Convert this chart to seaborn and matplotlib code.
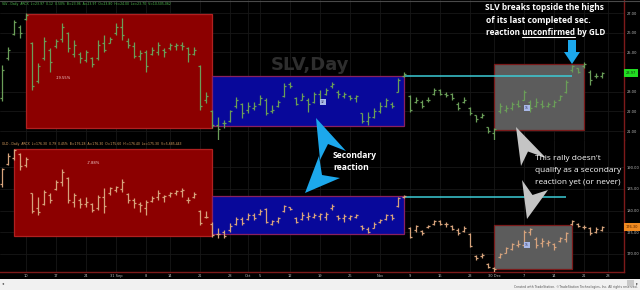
import matplotlib
matplotlib.use("Agg")
import matplotlib.pyplot as plt
import seaborn as sns
import numpy as np
import pandas as pd
from matplotlib.patches import Rectangle, Polygon
from matplotlib import font_manager as fm

# ---------------- data ----------------
trade_days = pd.bdate_range("2020-08-04", "2020-12-31", freq="C",
                            holidays=["2020-09-07", "2020-11-26", "2020-12-25"])

slv_high = [24.36, 25.27, 26.64, 26.39, 27.00, 25.53, 24.46, 25.78, 25.22, 25.68,
            26.49, 26.04, 25.63, 25.02, 25.12, 24.77, 25.63, 25.88, 25.78, 26.49,
            26.75, 25.73, 25.53, 25.12, 25.12, 25.27, 25.53, 25.22, 25.48, 25.48,
            25.53, 25.27, 25.27, 24.36, 22.99, 22.08, 21.72, 21.57, 22.08, 22.74,
            22.43, 22.48, 22.48, 22.84, 22.69, 22.33, 22.58, 23.45, 23.50, 22.74,
            22.94, 22.69, 22.99, 23.09, 23.19, 23.50, 23.09, 22.99, 22.84, 22.84,
            21.92, 21.98, 22.18, 22.48, 22.69, 22.48, 23.70, 24.00, 22.84, 22.74,
            22.58, 22.74, 23.19, 23.14, 22.99, 22.94, 22.48, 22.74, 22.23, 21.82,
            21.92, 21.21, 21.16, 22.43, 22.33, 22.48, 22.58, 23.09, 22.58, 22.69,
            22.58, 22.48, 22.58, 22.84, 23.60, 24.36, 24.21, 24.51, 24.11, 23.95,
            24.00]
slv_low = [22.55, 24.61, 25.88, 25.73, 26.64, 23.09, 23.45, 24.61, 24.00, 25.22,
           25.53, 25.02, 24.77, 24.46, 24.51, 24.26, 24.61, 25.02, 25.48, 25.88,
           25.63, 25.22, 24.72, 24.61, 24.00, 24.87, 24.87, 24.77, 25.12, 25.12,
           25.12, 24.51, 24.87, 22.08, 22.43, 21.16, 20.55, 21.16, 21.47, 22.18,
           21.67, 21.92, 22.08, 22.33, 21.82, 21.92, 22.23, 22.74, 23.19, 22.33,
           22.58, 21.98, 22.43, 22.43, 22.84, 23.19, 22.69, 22.69, 22.58, 22.48,
           21.42, 21.31, 21.67, 21.92, 22.23, 22.18, 22.99, 23.75, 21.98, 22.43,
           22.18, 22.48, 22.84, 22.84, 22.74, 22.58, 22.08, 22.43, 21.82, 21.47,
           21.67, 20.91, 20.55, 21.92, 21.98, 22.08, 22.23, 22.58, 21.98, 22.23,
           22.18, 22.23, 22.23, 22.58, 22.94, 24.00, 23.95, 24.21, 23.35, 23.70,
           23.70]
slv_open = [22.70, 24.70, 25.95, 26.30, 26.70, 25.50, 23.55, 24.70, 25.10, 25.30,
            25.70, 26.00, 24.90, 24.90, 24.60, 24.70, 24.70, 25.50, 25.50, 26.00,
            26.30, 25.60, 25.30, 24.80, 25.00, 24.90, 25.00, 25.10, 25.20, 25.30,
            25.40, 25.20, 24.90, 24.30, 22.60, 22.00, 21.30, 21.40, 21.50, 22.30,
            22.40, 22.10, 22.20, 22.40, 22.60, 22.00, 22.30, 22.80, 23.40, 22.70,
            22.60, 22.60, 22.50, 22.90, 22.90, 23.30, 23.00, 22.80, 22.80, 22.70,
            21.90, 21.50, 21.70, 22.00, 22.30, 22.40, 23.00, 23.80, 22.80, 22.50,
            22.50, 22.60, 22.90, 23.10, 22.90, 22.90, 22.40, 22.50, 22.20, 21.80,
            21.70, 21.20, 20.90, 22.00, 22.10, 22.20, 22.40, 22.60, 22.50, 22.30,
            22.40, 22.30, 22.30, 22.60, 23.00, 24.10, 24.20, 24.30, 24.00, 23.80,
            23.80]
slv_close = [24.10, 25.12, 26.55, 26.00, 26.90, 23.30, 24.30, 25.60, 24.50, 25.60,
             26.30, 25.20, 25.40, 24.70, 25.00, 24.40, 25.40, 25.10, 25.70, 26.30,
             25.90, 25.40, 24.80, 24.95, 24.30, 25.10, 25.40, 25.00, 25.40, 25.40,
             25.30, 24.90, 25.10, 22.30, 22.80, 21.30, 21.10, 21.40, 22.00, 22.60,
             21.90, 22.30, 22.30, 22.70, 21.90, 22.10, 22.50, 23.30, 23.30, 22.40,
             22.80, 22.40, 22.90, 22.60, 23.10, 23.40, 22.90, 22.90, 22.70, 22.80,
             21.50, 21.70, 22.00, 22.30, 22.60, 22.30, 23.60, 23.90, 22.10, 22.60,
             22.30, 22.60, 23.10, 22.90, 22.85, 22.70, 22.20, 22.60, 21.90, 21.60,
             21.80, 21.00, 21.10, 22.30, 22.20, 22.40, 22.30, 23.00, 22.20, 22.50,
             22.30, 22.40, 22.50, 22.80, 23.50, 24.30, 24.00, 24.40, 23.60, 23.80,
             23.97]

gld_high = [189.77, 193.20, 194.10, 193.20, 192.30, 184.00, 183.10, 184.70, 184.00, 187.00,
            189.50, 187.70, 184.00, 182.90, 183.10, 181.70, 183.60, 185.20, 185.40, 185.60,
            187.20, 184.00, 182.90, 182.00, 182.40, 183.30, 184.70, 183.60, 184.30, 184.70,
            185.20, 183.10, 184.30, 180.10, 179.90, 177.40, 176.00, 175.50, 177.10, 178.50,
            178.50, 179.40, 179.40, 180.30, 180.60, 177.80, 178.50, 181.30, 180.80, 178.50,
            179.70, 179.70, 179.40, 179.40, 179.70, 181.50, 179.00, 179.20, 179.00, 179.20,
            176.70, 176.20, 177.40, 178.00, 179.20, 179.20, 183.10, 183.60, 176.20, 176.70,
            175.50, 176.70, 177.80, 177.80, 177.40, 176.70, 176.00, 176.40, 174.80, 169.80,
            170.20, 167.90, 167.00, 170.20, 171.60, 172.50, 173.20, 175.50, 176.00, 173.90,
            173.70, 173.20, 172.50, 173.90, 175.10, 177.80, 177.10, 176.70, 176.20, 176.20,
            176.40]
gld_low = [185.40, 190.46, 191.50, 189.31, 190.00, 179.40, 179.00, 181.30, 181.70, 184.70,
           185.60, 181.70, 180.80, 180.60, 180.80, 179.70, 180.10, 179.40, 183.60, 184.30,
           184.30, 181.70, 180.60, 179.70, 179.00, 182.00, 182.40, 182.00, 183.10, 183.60,
           183.10, 181.70, 182.90, 176.70, 178.30, 173.90, 173.70, 173.70, 175.10, 176.70,
           176.70, 177.80, 177.80, 179.00, 177.10, 176.70, 177.10, 179.70, 180.10, 177.10,
           177.80, 177.80, 178.30, 177.80, 177.80, 180.10, 177.80, 177.40, 177.80, 178.30,
           175.50, 174.80, 176.00, 177.10, 177.80, 177.80, 180.80, 182.90, 173.70, 175.10,
           174.40, 176.00, 176.70, 176.70, 176.20, 175.50, 174.40, 175.10, 171.60, 168.60,
           169.10, 166.80, 165.90, 169.10, 170.20, 170.90, 171.60, 171.60, 174.40, 171.40,
           171.60, 171.80, 170.90, 172.80, 172.80, 176.70, 176.20, 175.70, 174.40, 174.80,
           175.30]
gld_open = [186.00, 190.60, 192.00, 193.00, 190.50, 184.00, 180.50, 181.50, 183.50, 185.00,
            186.50, 187.50, 182.00, 182.50, 181.50, 181.50, 180.50, 183.00, 184.00, 184.80,
            185.00, 183.90, 182.30, 181.50, 180.50, 182.20, 183.00, 183.00, 183.50, 184.00,
            184.50, 182.50, 183.00, 180.00, 178.50, 177.00, 174.50, 175.00, 175.50, 177.00,
            178.00, 178.00, 178.90, 179.20, 180.30, 177.00, 177.50, 179.90, 180.70, 178.30,
            178.00, 178.50, 178.50, 178.80, 178.50, 180.50, 178.80, 178.20, 178.30, 178.50,
            176.50, 175.80, 176.00, 177.30, 178.00, 179.00, 181.00, 183.00, 176.00, 175.50,
            175.30, 176.10, 176.90, 177.60, 177.00, 176.50, 175.50, 175.20, 174.50, 169.50,
            169.50, 167.80, 166.80, 169.20, 170.30, 171.20, 172.00, 172.00, 175.00, 173.50,
            172.50, 172.50, 172.20, 173.00, 173.50, 177.00, 176.80, 176.30, 176.00, 175.00,
            175.60]
gld_close = [189.50, 192.50, 194.00, 190.20, 191.80, 180.00, 179.60, 184.20, 182.50, 186.60,
             188.80, 182.30, 183.60, 181.50, 182.00, 180.20, 183.00, 181.00, 185.10, 185.30,
             186.50, 182.30, 181.80, 181.20, 182.00, 182.80, 184.00, 183.30, 184.00, 184.40,
             184.70, 182.40, 183.70, 177.20, 178.50, 174.30, 174.60, 174.10, 176.50, 178.00,
             177.20, 178.90, 178.30, 180.00, 177.40, 177.50, 178.20, 181.00, 180.30, 177.40,
             178.90, 178.70, 179.00, 179.10, 179.20, 181.00, 178.20, 178.70, 178.70, 179.00,
             175.90, 175.00, 176.80, 177.80, 179.00, 178.20, 182.80, 183.40, 174.00, 176.40,
             174.80, 176.50, 177.50, 177.00, 176.80, 175.80, 174.90, 175.90, 171.90, 169.00,
             169.80, 167.00, 166.50, 170.00, 171.30, 172.30, 172.20, 175.00, 175.80, 172.00,
             173.00, 172.80, 171.50, 173.70, 174.80, 177.50, 176.50, 176.20, 174.80, 175.80,
             176.30]

tick_dates = ["2020-08-10", "2020-08-17", "2020-08-24", "2020-08-31", "2020-09-08",
              "2020-09-14", "2020-09-21", "2020-09-28", "2020-10-01", "2020-10-05",
              "2020-10-12", "2020-10-19", "2020-10-26", "2020-11-02", "2020-11-09",
              "2020-11-16", "2020-11-23", "2020-11-30", "2020-12-07", "2020-12-14",
              "2020-12-21", "2020-12-28"]
tick_labels = ["10", "17", "24", "31 Sep", "8", "14", "21", "28", "Oct", "5", "12",
               "19", "26", "Nov", "9", "16", "23", "30 Dec", "7", "14", "21", "28"]

slv_price_ticks = [21, 22, 23, 25, 26, 27]
gld_price_ticks = [170, 175, 180, 185, 190]

# boxes: (start date, end date, top price, bottom price)
slv_red_box = ("2020-08-10", "2020-09-23", 26.95, 21.16)
slv_blue_box = ("2020-09-23", "2020-11-06", 23.80, 21.26)
slv_gray_box = ("2020-11-30", "2020-12-21", 24.41, 21.06)
slv_cyan = ("2020-11-06", "2020-12-17", 23.80)
gld_red_box = ("2020-08-06", "2020-09-23", 194.14, 174.14)
gld_blue_box = ("2020-09-23", "2020-11-06", 183.33, 174.60)
gld_gray_box = ("2020-11-30", "2020-12-17", 176.67, 166.55)
gld_cyan = ("2020-11-06", "2020-12-16", 183.10)

# ---------------- style ----------------
sns.set_theme(style="dark")
plt.rcParams['font.family'] = ['DejaVu Sans']


def has_font(name):
    try:
        fm.findfont(fm.FontProperties(family=name), fallback_to_default=False)
        return True
    except Exception:
        return False


ann_font = 'Liberation Sans Narrow' if has_font('Liberation Sans Narrow') else 'Open Sans'

day_index = {d.strftime("%Y-%m-%d"): i for i, d in enumerate(trade_days)}

W, H = 640, 290
fig = plt.figure(figsize=(W / 100, H / 100), dpi=100, facecolor='black')

ax1 = fig.add_axes([0, 1 - 140 / H, 624 / W, 140 / H])
ax2 = fig.add_axes([0, 1 - 272 / H, 624 / W, 132 / H])
ov = fig.add_axes([0, 0, 1, 1], zorder=10)
ov.set_xlim(0, W)
ov.set_ylim(H, 0)
ov.axis('off')
ov.patch.set_alpha(0)

XMIN, XMAX = -1 / 3, 103 + 2 / 3
RED_EDGE = '#7e1a1a'

for ax, lims, ticks in [(ax1, (20.553, 27.66), slv_price_ticks),
                        (ax2, (165.86, 196.21), gld_price_ticks)]:
    ax.set_facecolor('black')
    ax.set_xlim(XMIN, XMAX)
    ax.set_ylim(*lims)
    for s in ax.spines.values():
        s.set_visible(False)
    ax.spines['right'].set_visible(True)
    ax.spines['right'].set_color(RED_EDGE)
    ax.spines['right'].set_linewidth(1.0)
    ax.yaxis.tick_right()
    ax.set_yticks(ticks)
    ax.set_yticklabels([f"{t:.2f}" for t in ticks])
    ax.tick_params(axis='y', length=0, pad=2, labelsize=2.6, labelcolor='#bdbdbd')
    ax.set_xticks([day_index[d] for d in tick_dates])
    ax.grid(True, color='#171717', lw=0.6)
    ax.set_axisbelow(True)

ax1.tick_params(axis='x', length=0, labelbottom=False)
ax2.set_xticklabels(tick_labels)
ax2.tick_params(axis='x', length=0, pad=1.5, labelsize=2.6, labelcolor='#bdbdbd')
ax2.spines['bottom'].set_visible(True)
ax2.spines['bottom'].set_color(RED_EDGE)
ax2.spines['bottom'].set_linewidth(1.0)


def box(ax, spec, fc, ec):
    d0, d1, top, bot = spec
    x0, x1 = day_index[d0], day_index[d1]
    ax.add_patch(Rectangle((x0, bot), x1 - x0, top - bot, facecolor=fc,
                           edgecolor=ec, lw=0.9, zorder=2))


def hline(ax, spec):
    d0, d1, y = spec
    ax.hlines(y, day_index[d0], day_index[d1], color='#3ccbd6', lw=1.1, zorder=3)


# watermarks
ax1.text(310, 65, "SLV,Day", transform=ov.transData, ha='center', va='center',
         fontsize=13, fontweight='bold', color='#2e2e2e', zorder=1)
ax2.text(310, 205, "GLD,Day", transform=ov.transData, ha='center', va='center',
         fontsize=13, fontweight='bold', color='#2a2a2a', zorder=1)

box(ax1, slv_red_box, '#8c0000', '#b02020')
box(ax1, slv_blue_box, '#08089a', '#8a2060')
box(ax1, slv_gray_box, '#5c5c5c', '#7a1a1a')
hline(ax1, slv_cyan)
box(ax2, gld_red_box, '#8c0000', '#b02020')
box(ax2, gld_blue_box, '#08089a', '#8a2060')
box(ax2, gld_gray_box, '#5c5c5c', '#7a1a1a')
hline(ax2, gld_cyan)


def ohlc(ax, o, h, l, c, color):
    x = np.arange(len(h))
    ax.vlines(x, l, h, color=color, lw=0.9, zorder=4)
    ax.hlines(o, x - 0.4, x, color=color, lw=0.9, zorder=4)
    ax.hlines(c, x, x + 0.4, color=color, lw=0.9, zorder=4)


ohlc(ax1, slv_open, slv_high, slv_low, slv_close, '#6a9e58')
ohlc(ax2, gld_open, gld_high, gld_low, gld_close, '#d6a37c')

# last price markers
ax1.text(1.003, slv_close[-1], f"{slv_close[-1]:.2f}", transform=ax1.get_yaxis_transform(),
         ha='left', va='center', fontsize=2.6, color='#103010',
         bbox=dict(boxstyle='square,pad=0.55', fc='#22dd22', ec='none'))
ax2.text(1.003, gld_close[-1], f"{gld_close[-1]:.2f}", transform=ax2.get_yaxis_transform(),
         ha='left', va='center', fontsize=2.6, color='#502000',
         bbox=dict(boxstyle='square,pad=0.55', fc='#f08a20', ec='none'))

renderer = fig.canvas.get_renderer()


def fit_text(x, y, s, width, size0=7.0, **kw):
    t = ov.text(x, y, s, fontsize=size0, **kw)
    w = t.get_window_extent(renderer).width
    t.set_fontsize(size0 * width / w)
    return t


# headers
fit_text(2, 4.5, "SLV - Daily  ARCX  L=23.97  0.12  0.50%  B=23.96  A=23.97  O=23.80  Hi=24.00  Lo=23.70  V=10,505,062",
         170, color='#4fbf4f', ha='left', va='center')
fit_text(2, 144.5, "GLD - Daily  ARCX  L=176.30  0.79  0.45%  B=176.28  A=176.30  O=175.60  Hi=176.40  Lo=175.30  V=5,685,443",
         180, color='#d9a060', ha='left', va='center')

# percent labels
fit_text(56, 78, "-19.55%", 15, color='#f0d0d0', ha='left', va='center')
fit_text(87, 163, "-7.88%", 13, color='#f0d0d0', ha='left', va='center')

# small box labels
for (px, py) in [(323, 102), (527, 108), (527, 245)]:
    ov.text(px, py, "32" if px < 400 else "15", fontsize=2.2, color='#303060',
            ha='center', va='center',
            bbox=dict(boxstyle='square,pad=0.25', fc='#a8b8e8', ec='none'))

# top-right annotation
afont = dict(family=ann_font, fontweight='bold', color='white', ha='left', va='center')
fit_text(485, 8, "SLV breaks topside the highs", 119, **afont)
fit_text(486, 20.5, "of its last completed sec.", 104, **afont)
t3 = fit_text(486, 32.5, "reaction unconfirmed by GLD", 118, **afont)
fs3 = t3.get_fontsize()
tmp1 = ov.text(0, 0, "reaction unconfirmed", fontsize=fs3, **afont)
tmp2 = ov.text(0, 0, "unconfirmed", fontsize=fs3, **afont)
w_a = tmp1.get_window_extent(renderer).width
w_b = tmp2.get_window_extent(renderer).width
tmp1.remove()
tmp2.remove()
ov.plot([486 + w_a - w_b, 486 + w_a], [37.2, 37.2], color='white', lw=0.8)

# secondary reaction label
fit_text(333, 155, "Secondary", 44, **afont)
fit_text(333.5, 167, "reaction", 36, **afont)

# gray note
gfont = dict(family=ann_font, color='white', ha='left', va='center')
fit_text(535, 158, "This rally doesn't", 66, **gfont)
fit_text(535, 171, "qualify as a secondary", 87, **gfont)
fit_text(535, 183, "reaction yet (or never)", 85, **gfont)

# arrows
BLUE = '#1ca8ec'
GRAY = '#c4c4c4'
ov.add_patch(Polygon([(316, 118), (320, 160), (328, 144), (346, 151)], closed=True,
                     fc=BLUE, ec='none'))
ov.add_patch(Polygon([(305, 193), (319, 156), (322, 175), (340, 178)], closed=True,
                     fc=BLUE, ec='none'))
ov.add_patch(Polygon([(516, 127), (521, 166), (528, 151.5), (546, 158)], closed=True,
                     fc=GRAY, ec='none'))
ov.add_patch(Polygon([(527, 219), (522, 180), (532.5, 195), (548, 190)], closed=True,
                     fc=GRAY, ec='none'))
ov.add_patch(Polygon([(568, 40), (576, 40), (576, 52), (580, 52), (572, 64),
                      (564, 52), (568, 52)], closed=True, fc=BLUE, ec='none'))

# bottom strip
ov.add_patch(Rectangle((0, 279), W, 11, fc='#f1f1f1', ec='none'))
ov.add_patch(Rectangle((627, 280), 7, 6, fc='#c8c8c8', ec='none'))
ov.text(637.5, 283, "▸", fontsize=3, color='#444444', ha='center', va='center')
ov.text(3, 283, "◂", fontsize=3, color='#444444', ha='center', va='center')
fit_text(638, 287.3, "Created with TradeStation. \u00a9TradeStation Technologies, Inc. All rights reserved.",
         124, color='#555555', ha='right', va='center')
ov.plot([0, W], [0.5, 0.5], color='#4a4a4a', lw=0.8)

fig.savefig("out.png", dpi=100, facecolor='black')
